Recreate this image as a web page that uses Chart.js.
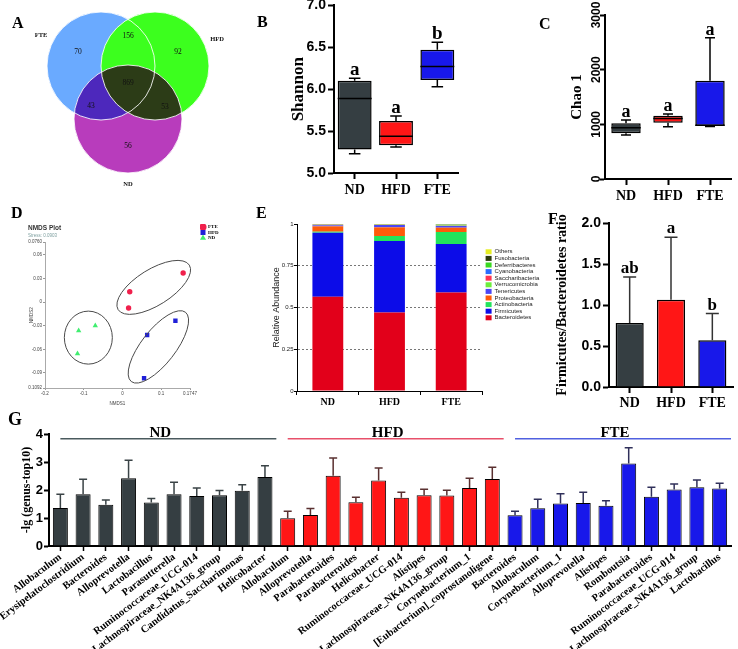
<!DOCTYPE html>
<html>
<head>
<meta charset="utf-8">
<script src="https://cdn.jsdelivr.net/npm/chart.js@4.4.0/dist/chart.umd.min.js"></script>
<style>
  html, body { margin: 0; padding: 0; background: #fff; }
  #fig { position: relative; width: 738px; height: 649px; overflow: hidden; background: #fff; }
  #fig canvas { position: absolute; }
  .tag { position: absolute; font: bold 16px "Liberation Serif", "Times New Roman", serif; color: #000; line-height: 1; }
</style>
</head>
<body>
<div id="fig">
  <canvas id="venn" width="240" height="200" style="left:0;top:0"></canvas>
  <canvas id="shannon" width="225" height="210" style="left:240px;top:-5px"></canvas>
  <canvas id="chao" width="238" height="215" style="left:500px;top:-5px"></canvas>
  <canvas id="nmds" width="225" height="215" style="left:0;top:195px"></canvas>
  <canvas id="phylum" width="295" height="215" style="left:250px;top:195px"></canvas>
  <canvas id="ratio" width="208" height="215" style="left:530px;top:200px"></canvas>
  <canvas id="genus" width="738" height="259" style="left:0;top:390px"></canvas>
  <div class="tag" style="left:12px;top:15px">A</div>
  <div class="tag" style="left:257px;top:14px">B</div>
  <div class="tag" style="left:539px;top:16px">C</div>
  <div class="tag" style="left:11px;top:205px">D</div>
  <div class="tag" style="left:256px;top:205px">E</div>
  <div class="tag" style="left:548px;top:211px">F</div>
  <div class="tag" style="left:8px;top:410px;font-size:18px">G</div>
</div>
<script>
const SERIF = '"Liberation Serif", "Times New Roman", serif';
const SANS = '"Liberation Sans", Arial, sans-serif';

// groups shared by most panels
const groups = ['ND', 'HFD', 'FTE'];
const groupColors = ['#353e42', '#ff1616', '#1818ea'];

// A: Venn diagram
const vennSets = ['ND', 'HFD', 'FTE'];
const vennCentreX = [128, 155, 101];
const vennCentreY = [119, 66, 66];
const vennCounts = [70, 156, 92, 869, 43, 53, 56];   // FTE, FTE&HFD, HFD, all, FTE&ND, HFD&ND, ND

// B: Shannon box plot
const shannonMin = [5.23, 5.31, 6.03];
const shannonQ1 = [5.28, 5.33, 6.11];
const shannonMedian = [5.89, 5.44, 6.27];
const shannonQ3 = [6.10, 5.62, 6.47];
const shannonMax = [6.13, 5.68, 6.56];
const shannonLetters = ['a', 'a', 'b'];

// C: Chao 1 box plot
const chaoMin = [805, 957, 962];
const chaoQ1 = [835, 1030, 968];
const chaoMedian = [939, 1105, 982];
const chaoQ3 = [1018, 1159, 1799];
const chaoMax = [1079, 1189, 2585];
const chaoLetters = ['a', 'a', 'a'];

// D: NMDS
const fteNmds1 = [0.157, 0.019, 0.016];
const fteNmds2 = [0.0368, 0.0131, -0.0076];
const hfdNmds1 = [0.137, 0.064, 0.056];
const hfdNmds2 = [-0.0237, -0.0418, -0.0968];
const ndNmds1 = [-0.070, -0.113, -0.116];
const ndNmds2 = [-0.030, -0.0363, -0.0655];
const ellipseNmds1 = [0.081, 0.093, -0.088];
const ellipseNmds2 = [0.0186, -0.057, -0.0452];
const nmdsXTicks = [-0.2, -0.1, 0, 0.1, 0.1747];
const nmdsXTickLabels = ['-0.2', '-0.1', '0', '0.1', '0.1747'];
const nmdsYTicks = [0.076, 0.06, 0.03, 0, -0.03, -0.06, -0.09, -0.1092];
const nmdsYTickLabels = ['0.0760', '0.06', '0.03', '0', '-0.03', '-0.06', '-0.09', '-0.1092'];

// E: phylum relative abundance
const phyla = ['Bacteroidetes', 'Firmicutes', 'Actinobacteria', 'Proteobacteria', 'Tenericutes',
  'Verrucomicrobia', 'Saccharibacteria', 'Cyanobacteria', 'Deferribacteres', 'Fusobacteria', 'Others'];
const phylaColors = ['#e2001a', '#0c0ce8', '#22e35c', '#ff5a0a', '#4b46f5',
  '#6cee3c', '#ff3452', '#2a6cff', '#3ad820', '#2c3a0c', '#e6ee22'];
const abundND = [0.564, 0.384, 0.006, 0.032, 0.006, 0.001, 0.002, 0.001, 0.001, 0.0005, 0.0025];
const abundHFD = [0.470, 0.428, 0.030, 0.052, 0.014, 0.001, 0.001, 0.0005, 0.0005, 0.0005, 0.0025];
const abundFTE = [0.590, 0.290, 0.072, 0.026, 0.010, 0.003, 0.002, 0.002, 0.001, 0.001, 0.003];

// F: Firmicutes/Bacteroidetes ratio
const fbRatio = [0.78, 1.065, 0.57];
const fbSD = [0.56, 0.76, 0.325];
const fbLetters = ['ab', 'a', 'b'];

// G: top-10 genera per group
const ndGenus = ['Allobaculum', 'Erysipelatoclostridium', 'Bacteroides', 'Alloprevotella', 'Lactobacillus',
  'Parasutterella', 'Ruminococcaceae_UCG-014', 'Lachnospiraceae_NK4A136_group', 'Candidatus_Saccharimonas', 'Helicobacter'];
const ndMean = [1.36, 1.85, 1.47, 2.42, 1.55, 1.85, 1.79, 1.81, 1.97, 2.46];
const ndSD = [0.49, 0.53, 0.17, 0.64, 0.15, 0.43, 0.28, 0.17, 0.22, 0.41];
const hfdGenus = ['Allobaculum', 'Alloprevotella', 'Parabacteroides', 'Parabacteroides', 'Helicobacter',
  'Ruminococcaceae_UCG-014', 'Alistipes', 'Lachnospiraceae_NK4A136_group', 'Corynebacterium_1', '[Eubacterium]_coprostanoligene'];
const hfdMean = [0.99, 1.11, 2.51, 1.56, 2.34, 1.72, 1.81, 1.80, 2.07, 2.39];
const hfdSD = [0.25, 0.23, 0.63, 0.18, 0.45, 0.20, 0.22, 0.19, 0.35, 0.42];
const fteGenus = ['Bacteroides', 'Allobaculum', 'Corynebacterium_1', 'Alloprevotella', 'Alistipes',
  'Romboutsia', 'Parabacteroides', 'Ruminococcaceae_UCG-014', 'Lachnospiraceae_NK4A136_group', 'Lactobacillus'];
const fteMean = [1.10, 1.35, 1.52, 1.54, 1.44, 2.95, 1.76, 2.02, 2.10, 2.05];
const fteSD = [0.14, 0.32, 0.35, 0.38, 0.18, 0.56, 0.34, 0.19, 0.26, 0.19];
const genusGroupLineColors = ['#4a5a5e', '#e8506a', '#5060e0'];

Chart.defaults.font.family = SERIF;
Chart.defaults.color = '#000';
Chart.defaults.animation = false;
Chart.defaults.events = [];
Chart.defaults.plugins.legend.display = false;
Chart.defaults.plugins.tooltip.enabled = false;

const fixWidth = w => s => { s.width = w; };
const fixHeight = h => s => { s.height = h; };

// whiskers, medians and letters on top of floating-bar boxes
function boxWhiskers(mins, medians, maxs, letters, letterSize) {
  return {
    id: 'boxWhiskers',
    afterDatasetsDraw(chart) {
      const {ctx} = chart;
      const y = chart.scales.y;
      ctx.save();
      ctx.strokeStyle = '#000';
      ctx.lineWidth = 1.5;
      chart.getDatasetMeta(0).data.forEach((bar, i) => {
        const half = bar.width / 2, cap = bar.width * 0.17;
        const top = Math.min(bar.y, bar.base), bottom = Math.max(bar.y, bar.base);
        const pMax = y.getPixelForValue(maxs[i]);
        const pMin = y.getPixelForValue(mins[i]);
        const pMed = y.getPixelForValue(medians[i]);
        ctx.beginPath();
        ctx.moveTo(bar.x, top); ctx.lineTo(bar.x, pMax);
        ctx.moveTo(bar.x - cap, pMax); ctx.lineTo(bar.x + cap, pMax);
        ctx.moveTo(bar.x, bottom); ctx.lineTo(bar.x, pMin);
        ctx.moveTo(bar.x - cap, pMin); ctx.lineTo(bar.x + cap, pMin);
        ctx.moveTo(bar.x - half, pMed); ctx.lineTo(bar.x + half, pMed);
        ctx.stroke();
        ctx.fillStyle = '#000';
        ctx.font = 'bold ' + letterSize + 'px ' + SERIF;
        ctx.textAlign = 'center';
        ctx.textBaseline = 'alphabetic';
        ctx.fillText(letters[i], bar.x, pMax - 3);
      });
      ctx.restore();
    }
  };
}

// upward error bars (mean + SD), optional letters
function errorBars(sd, colors, cap, letters, letterSize) {
  return {
    id: 'errorBars',
    afterDatasetsDraw(chart) {
      const {ctx} = chart;
      const y = chart.scales.y;
      const values = chart.data.datasets[0].data;
      ctx.save();
      ctx.lineWidth = 1.5;
      chart.getDatasetMeta(0).data.forEach((bar, i) => {
        const top = y.getPixelForValue(values[i] + sd[i]);
        ctx.strokeStyle = colors[i];
        ctx.beginPath();
        ctx.moveTo(bar.x, bar.y); ctx.lineTo(bar.x, top);
        ctx.moveTo(bar.x - cap, top); ctx.lineTo(bar.x + cap, top);
        ctx.stroke();
        if (letters) {
          ctx.fillStyle = '#000';
          ctx.font = 'bold ' + letterSize + 'px ' + SERIF;
          ctx.textAlign = 'center';
          ctx.textBaseline = 'alphabetic';
          ctx.fillText(letters[i], bar.x, top - 4);
        }
      });
      ctx.restore();
    }
  };
}

// ---------- A: Venn ----------
const vennLook = {
  colors: {ND: '#b83cbc', HFD: '#3cff1e', FTE: '#6aaaff'},
  radius: 54,
  countAt: [[78, 52], [128, 36], [178, 52], [128, 83], [91, 106], [165, 107], [128, 146]],
  nameAt: {FTE: [41, 35], HFD: [217, 39], ND: [128, 184]}
};
const vennPlugin = {
  id: 'vennDecor',
  beforeDatasetDraw(chart, args) {
    if (chart.data.datasets[args.index].label === 'ND') {
      chart.ctx.save();
      chart.ctx.globalCompositeOperation = 'multiply';
    }
  },
  afterDatasetDraw(chart, args) {
    if (chart.data.datasets[args.index].label === 'ND') chart.ctx.restore();
  },
  afterDatasetsDraw(chart) {
    const {ctx} = chart;
    const x = chart.scales.x, y = chart.scales.y;
    ctx.save();
    ctx.strokeStyle = 'rgba(255,255,255,0.85)';
    ctx.lineWidth = 1;
    chart.data.datasets.forEach((ds, i) => {
      const pt = chart.getDatasetMeta(i).data[0];
      ctx.beginPath();
      ctx.arc(pt.x, pt.y, vennLook.radius, 0, Math.PI * 2);
      ctx.stroke();
    });
    ctx.fillStyle = '#111';
    ctx.textAlign = 'center';
    ctx.textBaseline = 'middle';
    ctx.font = '7.5px ' + SERIF;
    vennCounts.forEach((c, i) => {
      const at = vennLook.countAt[i];
      ctx.fillText(String(c), x.getPixelForValue(at[0]), y.getPixelForValue(at[1]));
    });
    ctx.font = 'bold 6.5px ' + SERIF;
    vennSets.forEach(name => {
      const at = vennLook.nameAt[name];
      ctx.fillText(name, x.getPixelForValue(at[0]), y.getPixelForValue(at[1]));
    });
    ctx.restore();
  }
};
new Chart(document.getElementById('venn'), {
  type: 'scatter',
  data: {
    datasets: vennSets.map((name, i) => ({
      label: name,
      data: [{x: vennCentreX[i], y: vennCentreY[i]}],
      backgroundColor: vennLook.colors[name],
      borderWidth: 0,
      pointRadius: vennLook.radius,
      clip: false
    }))
  },
  options: {
    responsive: false,
    layout: {padding: 0, autoPadding: false},
    scales: {
      x: {display: false, min: 0, max: 240},
      y: {display: false, min: 0, max: 200, reverse: true}
    }
  },
  plugins: [vennPlugin]
});

// ---------- B: Shannon ----------
new Chart(document.getElementById('shannon'), {
  type: 'bar',
  data: {
    labels: groups,
    datasets: [{
      data: shannonQ1.map((q, i) => [q, shannonQ3[i]]),
      backgroundColor: groupColors,
      borderColor: '#000',
      borderWidth: 1.5,
      borderSkipped: false,
      barPercentage: 0.82,
      categoryPercentage: 1
    }]
  },
  options: {
    responsive: false,
    layout: {padding: {top: 10, right: 7, left: 0, bottom: 0}},
    scales: {
      x: {
        grid: {drawOnChartArea: false, offset: false, tickLength: 6, tickWidth: 2, tickColor: '#000'},
        border: {color: '#000', width: 2},
        ticks: {font: {family: SERIF, size: 14, weight: 'bold'}, color: '#000', padding: 3},
        afterFit: fixHeight(32)
      },
      y: {
        min: 5, max: 7,
        ticks: {stepSize: 0.5, callback: v => v.toFixed(1), font: {family: SANS, size: 14, weight: 'bold'}, color: '#000', padding: 2},
        grid: {drawOnChartArea: false, tickLength: 6, tickWidth: 2, tickColor: '#000'},
        border: {color: '#000', width: 2},
        title: {display: true, text: 'Shannon', font: {family: SERIF, size: 17, weight: 'bold'}, color: '#000', padding: {top: 48}},
        afterFit: fixWidth(94)
      }
    }
  },
  plugins: [boxWhiskers(shannonMin, shannonMedian, shannonMax, shannonLetters, 19)]
});

// ---------- C: Chao 1 ----------
new Chart(document.getElementById('chao'), {
  type: 'bar',
  data: {
    labels: groups,
    datasets: [{
      data: chaoQ1.map((q, i) => [q, chaoQ3[i]]),
      backgroundColor: groupColors,
      borderColor: '#000',
      borderWidth: 1.5,
      borderSkipped: false,
      barPercentage: 0.7,
      categoryPercentage: 1
    }]
  },
  options: {
    responsive: false,
    layout: {padding: {top: 20, right: 7, left: 0, bottom: 0}},
    scales: {
      x: {
        grid: {drawOnChartArea: false, offset: false, tickLength: 6, tickWidth: 2, tickColor: '#000'},
        border: {color: '#000', width: 2},
        ticks: {font: {family: SERIF, size: 14, weight: 'bold'}, color: '#000', padding: 3},
        afterFit: fixHeight(31)
      },
      y: {
        min: 0, max: 3000,
        ticks: {stepSize: 1000, callback: v => String(v), minRotation: 90, maxRotation: 90, crossAlign: 'center', padding: -10,
          font: {family: SANS, size: 12, weight: 'bold'}, color: '#000'},
        grid: {drawOnChartArea: false, tickLength: 5, tickWidth: 2, tickColor: '#000'},
        border: {color: '#000', width: 2},
        title: {display: true, text: 'Chao 1', font: {family: SERIF, size: 15, weight: 'bold'}, color: '#000', padding: {top: 68}},
        afterFit: fixWidth(105)
      }
    }
  },
  plugins: [boxWhiskers(chaoMin, chaoMedian, chaoMax, chaoLetters, 18)]
});

// ---------- D: NMDS ----------
const ellipseLook = {rx: [42, 44, 24], ry: [18, 17, 26.5], angle: [-32, -52, 0]};
const ellipsePlugin = {
  id: 'groupEllipses',
  afterDatasetsDraw(chart) {
    const {ctx} = chart;
    const x = chart.scales.x, y = chart.scales.y;
    ctx.save();
    ctx.strokeStyle = '#4a4a4a';
    ctx.lineWidth = 1;
    ellipseNmds1.forEach((cx, i) => {
      ctx.beginPath();
      ctx.ellipse(x.getPixelForValue(cx), y.getPixelForValue(ellipseNmds2[i]),
        ellipseLook.rx[i], ellipseLook.ry[i], ellipseLook.angle[i] * Math.PI / 180, 0, Math.PI * 2);
      ctx.stroke();
    });
    ctx.restore();
  }
};
const tinyTicks = {font: {family: SANS, size: 4.5}, color: '#444', padding: 1};
new Chart(document.getElementById('nmds'), {
  type: 'scatter',
  data: {
    datasets: [
      {label: 'FTE', data: fteNmds1.map((v, i) => ({x: v, y: fteNmds2[i]})), pointStyle: 'circle', pointRadius: 2.7, backgroundColor: '#f0204c', borderColor: '#f0204c', borderWidth: 0},
      {label: 'HFD', data: hfdNmds1.map((v, i) => ({x: v, y: hfdNmds2[i]})), pointStyle: 'rect', pointRadius: 3.1, backgroundColor: '#2020d8', borderColor: '#2020d8', borderWidth: 0},
      {label: 'ND', data: ndNmds1.map((v, i) => ({x: v, y: ndNmds2[i]})), pointStyle: 'triangle', pointRadius: 3.1, backgroundColor: '#40ee70', borderColor: '#40ee70', borderWidth: 0}
    ]
  },
  options: {
    responsive: false,
    layout: {padding: {left: 28, top: 29, right: 0, bottom: 0}},
    plugins: {
      title: {display: true, text: 'NMDS Plot', align: 'start', color: '#333',
        font: {family: SANS, size: 6.5, weight: 'bold'}, padding: {top: 0, bottom: 1}},
      subtitle: {display: true, text: 'Stress: 0.0903', align: 'start', color: '#7fa0a0',
        font: {family: SANS, size: 4.5}, padding: {top: 0, bottom: 4}},
      legend: {display: true, position: 'right', align: 'start', maxWidth: 25,
        labels: {usePointStyle: true, boxWidth: 5, boxHeight: 5, padding: 0.5,
          font: {family: SERIF, size: 5, weight: 'bold'}, color: '#000'}}
    },
    scales: {
      x: {
        min: -0.2, max: 0.1747,
        afterBuildTicks: s => { s.ticks = nmdsXTicks.map(v => ({value: v})); },
        ticks: Object.assign({callback: (v, i) => nmdsXTickLabels[i]}, tinyTicks),
        grid: {drawOnChartArea: false, tickLength: 2, color: '#999'},
        border: {color: '#aaa'},
        title: {display: true, text: 'NMDS1', font: {family: SANS, size: 4.5}, color: '#444', padding: {top: 0, bottom: 4}},
        afterFit: fixHeight(22)
      },
      y: {
        min: -0.1092, max: 0.076,
        afterBuildTicks: s => { s.ticks = nmdsYTicks.map(v => ({value: v})); },
        ticks: Object.assign({callback: (v, i) => nmdsYTickLabels[i]}, tinyTicks),
        grid: {drawOnChartArea: false, tickLength: 2, color: '#999'},
        border: {color: '#aaa'},
        title: {display: true, text: 'NMDS2', font: {family: SANS, size: 4.5}, color: '#444', padding: {top: 1.5}},
        afterFit: fixWidth(17)
      },
      gap: {type: 'linear', axis: 'y', position: 'right', display: true,
        ticks: {display: false}, grid: {display: false}, border: {display: false}, afterFit: fixWidth(10)}
    }
  },
  plugins: [ellipsePlugin]
});

// ---------- E: relative abundance ----------
new Chart(document.getElementById('phylum'), {
  type: 'bar',
  data: {
    labels: groups,
    datasets: phyla.map((name, k) => ({
      label: name,
      data: [abundND[k], abundHFD[k], abundFTE[k]],
      backgroundColor: phylaColors[k],
      borderWidth: 0,
      barPercentage: 0.5,
      categoryPercentage: 1
    }))
  },
  options: {
    responsive: false,
    layout: {padding: {top: 29, right: 0, left: 0, bottom: 0}},
    plugins: {
      legend: {
        display: true, position: 'right', align: 'start', reverse: true, maxWidth: 60,
        title: {display: true, text: '', font: {size: 1}, padding: {top: 23, bottom: 0}},
        labels: {boxWidth: 6, boxHeight: 5, padding: 0.6, font: {family: SANS, size: 6}, color: '#222'}
      }
    },
    scales: {
      x: {
        stacked: true,
        grid: {drawOnChartArea: false, tickLength: 4, tickColor: '#000'},
        border: {color: '#000'},
        ticks: {font: {family: SERIF, size: 10, weight: 'bold'}, color: '#000', padding: 1},
        afterFit: fixHeight(19)
      },
      y: {
        stacked: true, min: 0, max: 1,
        ticks: {stepSize: 0.25, callback: v => String(v), font: {family: SANS, size: 6}, color: '#222', padding: 0.5},
        grid: {color: c => (c.tick && c.tick.value > 0 && c.tick.value < 1) ? '#777' : 'rgba(0,0,0,0)',
          tickColor: '#000', tickLength: 3},
        border: {color: '#000', dash: [2, 2]},
        title: {display: true, text: 'Relative Abundance', font: {family: SANS, size: 9}, color: '#222', padding: {top: 21}},
        afterFit: fixWidth(47)
      },
      gap: {type: 'linear', axis: 'y', position: 'right', display: true,
        ticks: {display: false}, grid: {display: false}, border: {display: false}, afterFit: fixWidth(3)}
    }
  }
});

// ---------- F: F/B ratio ----------
new Chart(document.getElementById('ratio'), {
  type: 'bar',
  data: {
    labels: groups,
    datasets: [{
      data: fbRatio,
      backgroundColor: groupColors,
      borderColor: '#000',
      borderWidth: 1.5,
      barPercentage: 0.68,
      categoryPercentage: 1
    }]
  },
  options: {
    responsive: false,
    layout: {padding: {top: 23, right: 5, left: 0, bottom: 0}},
    scales: {
      x: {
        grid: {drawOnChartArea: false, offset: false, tickLength: 6, tickWidth: 2, tickColor: '#000'},
        border: {color: '#000', width: 2},
        ticks: {font: {family: SERIF, size: 14, weight: 'bold'}, color: '#000', padding: 2},
        afterFit: fixHeight(28)
      },
      y: {
        min: 0, max: 2,
        ticks: {stepSize: 0.5, callback: v => v.toFixed(1), font: {family: SANS, size: 14, weight: 'bold'}, color: '#000', padding: 2},
        grid: {drawOnChartArea: false, tickLength: 6, tickWidth: 2, tickColor: '#000'},
        border: {color: '#000', width: 2},
        title: {display: true, text: 'Firmicutes/Bacteroidetes ratio', font: {family: SERIF, size: 14, weight: 'bold'}, color: '#000', padding: {top: 24}},
        afterFit: fixWidth(79)
      }
    }
  },
  plugins: [errorBars(fbSD, ['#333', '#333', '#333'], 6.5, fbLetters, 17)]
});

// ---------- G: genus -lg ----------
const genusLabels = ndGenus.concat(hfdGenus, fteGenus);
const genusMean = ndMean.concat(hfdMean, fteMean);
const genusSD = ndSD.concat(hfdSD, fteSD);
const genusSizes = [ndGenus.length, hfdGenus.length, fteGenus.length];
const genusColors = [];
const genusErrColors = [];
genusSizes.forEach((n, g) => {
  for (let k = 0; k < n; k++) {
    genusColors.push(groupColors[g]);
    genusErrColors.push(['#3a4346', '#5a3030', '#30305a'][g]);
  }
});
const bracketLook = {level: 3.83, lineWidth: 1.5, font: 'bold 15px ' + SERIF};
const groupBrackets = {
  id: 'groupBrackets',
  afterDatasetsDraw(chart) {
    const {ctx} = chart;
    const x = chart.scales.x, y = chart.scales.y;
    const py = y.getPixelForValue(bracketLook.level);
    const step = x.getPixelForValue(1) - x.getPixelForValue(0);
    let start = 0;
    ctx.save();
    groups.forEach((name, g) => {
      const n = genusSizes[g];
      const x0 = x.getPixelForValue(start);
      const x1 = x.getPixelForValue(start + n - 1) + step / 2;
      ctx.strokeStyle = genusGroupLineColors[g];
      ctx.lineWidth = bracketLook.lineWidth;
      ctx.beginPath();
      ctx.moveTo(x0, py); ctx.lineTo(x1, py);
      ctx.stroke();
      ctx.fillStyle = '#000';
      ctx.font = bracketLook.font;
      ctx.textAlign = 'center';
      ctx.textBaseline = 'alphabetic';
      ctx.fillText(name, (x0 + x1) / 2 - 8, py - 2);
      start += n;
    });
    ctx.restore();
  }
};
new Chart(document.getElementById('genus'), {
  type: 'bar',
  data: {
    labels: genusLabels,
    datasets: [{
      data: genusMean,
      backgroundColor: genusColors,
      borderColor: '#000',
      borderWidth: 1,
      barPercentage: 0.66,
      categoryPercentage: 1
    }]
  },
  options: {
    responsive: false,
    layout: {padding: {top: 44, right: 7, left: 0, bottom: 0}},
    scales: {
      x: {
        grid: {drawOnChartArea: false, offset: false, tickLength: 5, tickWidth: 1.5, tickColor: '#000'},
        border: {color: '#000', width: 2},
        ticks: {autoSkip: false, minRotation: 37, maxRotation: 37, padding: 0,
          font: {family: SERIF, size: 10.5, weight: 'bold'}, color: '#000'},
        afterFit: fixHeight(103)
      },
      y: {
        min: 0, max: 4,
        ticks: {stepSize: 1, font: {family: SANS, size: 13, weight: 'bold'}, color: '#000', padding: 1},
        grid: {drawOnChartArea: false, tickLength: 5, tickWidth: 2, tickColor: '#000'},
        border: {color: '#000', width: 2},
        title: {display: true, text: '-lg (genus-top10)', font: {family: SERIF, size: 12, weight: 'bold'}, color: '#000', padding: {top: 20}},
        afterFit: fixWidth(49)
      }
    }
  },
  plugins: [errorBars(genusSD, genusErrColors, 4, null, 0), groupBrackets]
});
</script>
</body>
</html>
